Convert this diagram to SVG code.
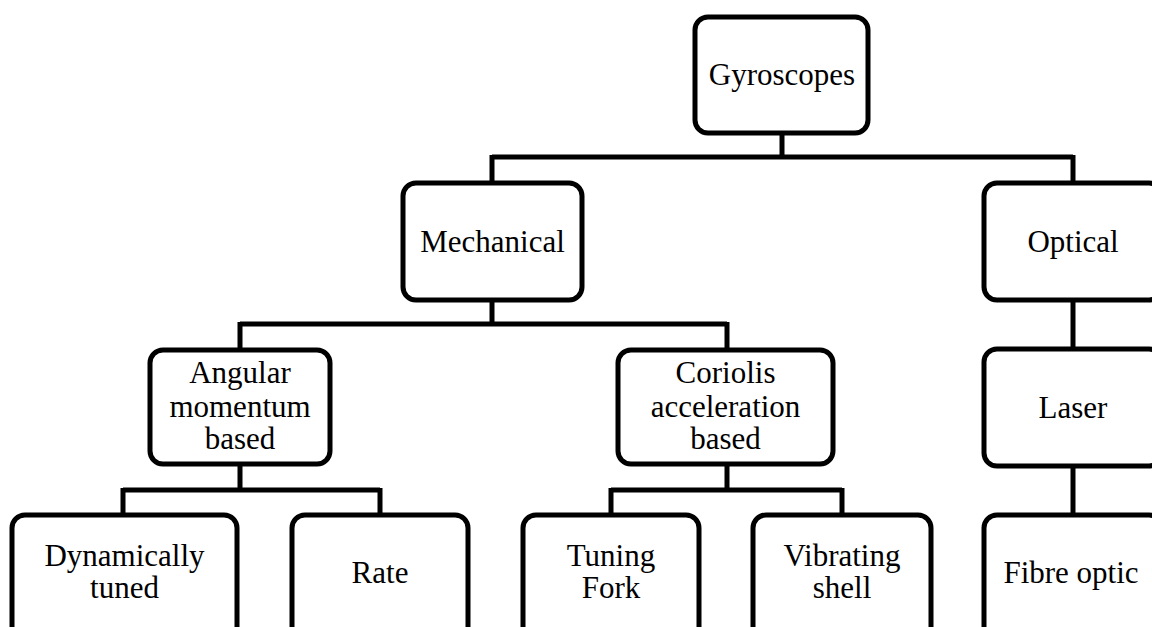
<svg xmlns="http://www.w3.org/2000/svg" width="1152" height="627" viewBox="0 0 1152 627">
<style>
.box{fill:#fff;stroke:#000;stroke-width:5}
.lbl{font-family:"Liberation Serif","Times New Roman",serif;font-size:31px;fill:#000;text-anchor:middle}
.conn{fill:none;stroke:#000;stroke-width:5;stroke-linejoin:round}
</style>
<rect width="1152" height="627" fill="#fff"/>
<g id="connectors" class="conn">
<path d="M782 133V157M492 157H1073M492 155V183M1073 155V183"/>
<path d="M492 300V324M240 324H727M240 322V350M727 322V350"/>
<path d="M1073 300V350"/>
<path d="M240 464V490M123 490H380M123 488V515M380 488V515"/>
<path d="M727 464V490M611 490H842M611 488V515M842 488V515"/>
<path d="M1073 466V515"/>
</g>
<g id="gyroscopes"><rect class="box" x="695" y="17" width="173" height="116" rx="13"/><text class="lbl" x="782" y="85">Gyroscopes</text></g>
<g id="mechanical"><rect class="box" x="403" y="183" width="179" height="117" rx="13"/><text class="lbl" x="492.5" y="252">Mechanical</text></g>
<g id="optical"><rect class="box" x="984" y="183" width="178" height="117" rx="13"/><text class="lbl" x="1073" y="252">Optical</text></g>
<g id="angular"><rect class="box" x="150" y="350" width="180" height="114" rx="13"/><text class="lbl" x="240" y="383">Angular</text><text class="lbl" x="240" y="417">momentum</text><text class="lbl" x="240" y="449">based</text></g>
<g id="coriolis"><rect class="box" x="618" y="350" width="215" height="114" rx="13"/><text class="lbl" x="725.5" y="383">Coriolis</text><text class="lbl" x="725.5" y="417">acceleration</text><text class="lbl" x="725.5" y="449">based</text></g>
<g id="laser"><rect class="box" x="984" y="349" width="178" height="117" rx="13"/><text class="lbl" x="1073" y="418">Laser</text></g>
<g id="dynamically-tuned"><rect class="box" x="12" y="515" width="225" height="140" rx="13"/><text class="lbl" x="124.5" y="566">Dynamically</text><text class="lbl" x="124.5" y="598">tuned</text></g>
<g id="rate"><rect class="box" x="292" y="515" width="176" height="140" rx="13"/><text class="lbl" x="380" y="583">Rate</text></g>
<g id="tuning-fork"><rect class="box" x="523" y="515" width="176" height="140" rx="13"/><text class="lbl" x="611" y="566">Tuning</text><text class="lbl" x="611" y="598">Fork</text></g>
<g id="vibrating-shell"><rect class="box" x="753" y="515" width="178" height="140" rx="13"/><text class="lbl" x="842" y="566">Vibrating</text><text class="lbl" x="842" y="598">shell</text></g>
<g id="fibre-optic"><rect class="box" x="984" y="515" width="178" height="140" rx="13"/><text class="lbl" x="1071" y="583">Fibre optic</text></g>
</svg>
